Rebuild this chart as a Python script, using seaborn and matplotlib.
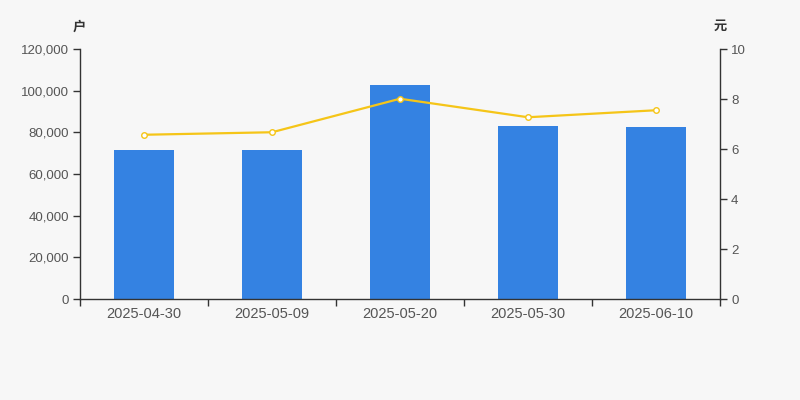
import matplotlib
matplotlib.use("Agg")
import matplotlib.pyplot as plt
import seaborn as sns
import pandas as pd
from matplotlib.ticker import FuncFormatter, FixedLocator

dates = ["2025-04-30", "2025-05-09", "2025-05-20", "2025-05-30", "2025-06-10"]
holders = [71500, 71600, 102700, 83000, 82400]
prices = [6.57, 6.67, 8.01, 7.27, 7.55]

df = pd.DataFrame({"date": dates, "holders": holders, "price": prices})

sns.set_theme(style="white")
plt.rcParams["font.family"] = ["Liberation Sans", "Noto Sans CJK SC", "DejaVu Sans"]

bg = "#f7f7f7"
axis_col = "#333333"
text_col = "#555555"

fig = plt.figure(figsize=(8, 4), dpi=100, facecolor=bg)
ax = fig.add_axes([0.1, 0.2525, 0.8, 0.625])
ax.set_facecolor(bg)

sns.barplot(data=df, x="date", y="holders", ax=ax, color="#3482e2",
            saturation=1, width=0.47, edgecolor="none")
ax.set_xlim(-0.5, len(dates) - 0.5)
ax.set_ylim(0, 120000)
ax.set_yticks([0, 20000, 40000, 60000, 80000, 100000, 120000])
ax.yaxis.set_major_formatter(FuncFormatter(lambda v, p: f"{int(v):,}"))
ax.set_xlabel("")
ax.set_ylabel("")

ax2 = ax.twinx()
sns.pointplot(data=df, x="date", y="price", ax=ax2, color="#f5c518",
              markers="o", markersize=4, linewidth=1.6)
for ln in ax2.lines:
    ln.set_markerfacecolor("white")
    ln.set_markeredgecolor("#f5c518")
    ln.set_markeredgewidth(1.0)
ax2.set_xlim(-0.5, len(dates) - 0.5)
ax2.set_ylim(0, 10)
ax2.set_yticks([0, 2, 4, 6, 8, 10])
ax2.set_xlabel("")
ax2.set_ylabel("")

for a in (ax, ax2):
    for s in a.spines.values():
        s.set_visible(False)
    a.grid(False)

ax.spines["left"].set_visible(True)
ax.spines["bottom"].set_visible(True)
ax2.spines["right"].set_visible(True)
for s in (ax.spines["left"], ax.spines["bottom"], ax2.spines["right"]):
    s.set_color(axis_col)
    s.set_linewidth(1.0)

ax.tick_params(axis="y", which="major", direction="out", length=5, width=1,
               color=axis_col, labelcolor=text_col, labelsize=9.5, pad=3, left=True)
ax2.tick_params(axis="y", which="major", direction="out", length=5, width=1,
                color=axis_col, labelcolor=text_col, labelsize=9.5, pad=3, right=True)
ax.tick_params(axis="x", which="major", length=0, labelcolor=text_col,
               labelsize=10.5, pad=6)
ax.xaxis.set_minor_locator(FixedLocator([i - 0.5 for i in range(len(dates) + 1)]))
ax.tick_params(axis="x", which="minor", direction="out", length=5, width=1,
               color=axis_col, bottom=True)

fig.text(0.09875, 0.9325, "户", ha="center", va="center", fontsize=9.5,
         color="#333333", fontweight="bold")
fig.text(0.9, 0.9325, "元", ha="center", va="center", fontsize=9.5,
         color="#333333", fontweight="bold")

fig.savefig("out.png", dpi=100, facecolor=bg)
